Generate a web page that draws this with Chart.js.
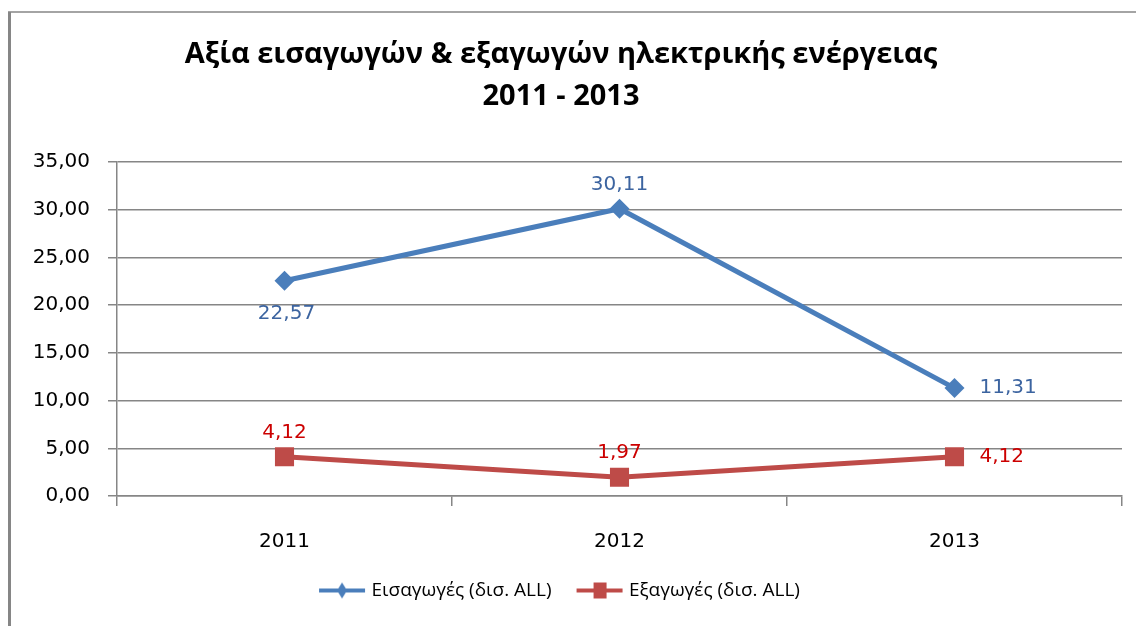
<!DOCTYPE html>
<html>
<head>
<meta charset="utf-8">
<script src="https://cdn.jsdelivr.net/npm/chart.js@4"></script>
<style>
  html, body { margin: 0; padding: 0; background: #fff; }
  #wrap { width: 1136px; height: 626px; }
</style>
</head>
<body>
<div id="wrap"><canvas id="myChart"></canvas></div>
<script>
// values
var years = ["2011", "2012", "2013"];
var imports = [22.57, 30.11, 11.31];
var exports = [4.12, 1.97, 4.12];
var yMin = 0, yMax = 35, yStep = 5;
var titleLines = ["Αξία εισαγωγών & εξαγωγών ηλεκτρικής ενέργειας", "2011 - 2013"];
var seriesNames = ["Εισαγωγές (δισ. ALL)", "Εξαγωγές (δισ. ALL)"];

var blue = "#4a7ebb";
var red = "#be4b48";

function fmt(v) {
  return v.toFixed(2).replace(".", ",");
}

// little line+marker pictures for the legend
function legendIcon(color, shape) {
  var c = document.createElement("canvas");
  c.width = 48;
  c.height = 20;
  var ctx = c.getContext("2d");
  ctx.strokeStyle = color;
  ctx.fillStyle = color;
  ctx.lineWidth = 4;
  ctx.beginPath();
  ctx.moveTo(1, 10);
  ctx.lineTo(47, 10);
  ctx.stroke();
  ctx.beginPath();
  if (shape == "diamond") {
    ctx.moveTo(24, 2);
    ctx.lineTo(29, 10);
    ctx.lineTo(24, 18);
    ctx.lineTo(19, 10);
    ctx.closePath();
  } else {
    ctx.rect(18, 2, 13, 16);
  }
  ctx.fill();
  return c;
}
var icons = [legendIcon(blue, "diamond"), legendIcon(red, "square")];

// outer frame (only left and top edges show in the picture)
var frame = {
  id: "frame",
  beforeDraw: function(chart) {
    var ctx = chart.ctx;
    ctx.save();
    ctx.fillStyle = "#fff";
    ctx.fillRect(0, 0, chart.width, chart.height);
    ctx.strokeStyle = "#868686";
    ctx.lineWidth = 3;
    ctx.beginPath();
    ctx.moveTo(9.5, chart.height);
    ctx.lineTo(9.5, 12);
    ctx.stroke();
    ctx.lineWidth = 1.5;
    ctx.beginPath();
    ctx.moveTo(8, 12);
    ctx.lineTo(chart.width, 12);
    ctx.stroke();
    ctx.restore();
  }
};

// value labels next to each point
var pointLabels = {
  id: "pointLabels",
  afterDatasetsDraw: function(chart) {
    var ctx = chart.ctx;
    chart.data.datasets.forEach(function(ds, i) {
      var meta = chart.getDatasetMeta(i);
      meta.data.forEach(function(pt, j) {
        var pos = ds.labelPos[j];
        var x = pt.x;
        var y = pt.y;
        ctx.save();
        ctx.font = "20px 'DejaVu Sans'";
        ctx.fillStyle = ds.labelColor;
        ctx.textBaseline = "middle";
        if (pos == "above") {
          ctx.textAlign = "center";
          y -= 24;
        } else if (pos == "below") {
          ctx.textAlign = "center";
          x += 2;
          y += 33;
        } else {
          ctx.textAlign = "left";
          x += 25;
        }
        ctx.fillText(fmt(ds.data[j]), x, y);
        ctx.restore();
      });
    });
  }
};

var graph = document.getElementById("myChart").getContext("2d");

new Chart(graph, {
  type: "line",
  data: {
    labels: years,
    datasets: [
      {
        label: seriesNames[0],
        data: imports,
        borderColor: blue,
        backgroundColor: blue,
        borderWidth: 5,
        pointStyle: "rectRot",
        pointRadius: 10,
        pointBorderWidth: 0,
        pointHoverRadius: 10,
        labelColor: "#3c64a0",
        labelPos: ["below", "above", "right"]
      },
      {
        label: seriesNames[1],
        data: exports,
        borderColor: red,
        backgroundColor: red,
        borderWidth: 5,
        pointStyle: "rect",
        pointRadius: 13.5,
        pointBorderWidth: 0,
        pointHoverRadius: 13.5,
        labelColor: "#cc0000",
        labelPos: ["above", "above", "right"]
      }
    ]
  },
  options: {
    responsive: true,
    maintainAspectRatio: false,
    animation: false,
    layout: {
      padding: { left: 0, right: 14, top: 0, bottom: 16 }
    },
    scales: {
      x: {
        offset: true,
        grid: {
          offset: true,
          drawOnChartArea: false,
          drawTicks: true,
          tickLength: 10,
          color: "#868686",
          lineWidth: 1.5
        },
        border: { color: "#868686", width: 1.5 },
        ticks: {
          padding: 24,
          color: "#000",
          font: { family: "DejaVu Sans", size: 20 }
        },
        afterFit: function(scale) {
          scale.height = 57;
        }
      },
      y: {
        min: yMin,
        max: yMax,
        grid: {
          color: "#868686",
          lineWidth: 1.5,
          drawTicks: true,
          tickLength: 9
        },
        border: { color: "#868686", width: 1.5 },
        ticks: {
          stepSize: yStep,
          padding: 18,
          color: "#000",
          font: { family: "DejaVu Sans", size: 20 },
          callback: function(value) {
            return fmt(value);
          }
        },
        afterFit: function(scale) {
          scale.width = 117;
        }
      }
    },
    plugins: {
      title: {
        display: true,
        text: titleLines,
        color: "#000",
        font: { family: "Open Sans", size: 29, weight: "bold", lineHeight: 1.45 },
        padding: { top: 34, bottom: 44 }
      },
      legend: {
        position: "bottom",
        labels: {
          usePointStyle: true,
          pointStyleWidth: 40,
          padding: 28,
          color: "#000",
          font: { family: "Open Sans", size: 19 },
          generateLabels: function(chart) {
            return chart.data.datasets.map(function(ds, i) {
              return {
                text: ds.label,
                pointStyle: icons[i],
                fillStyle: ds.borderColor,
                strokeStyle: ds.borderColor,
                fontColor: "#000",
                lineWidth: 0,
                hidden: false,
                datasetIndex: i
              };
            });
          }
        }
      },
      tooltip: { enabled: false }
    }
  },
  plugins: [frame, pointLabels]
});
</script>
</body>
</html>
